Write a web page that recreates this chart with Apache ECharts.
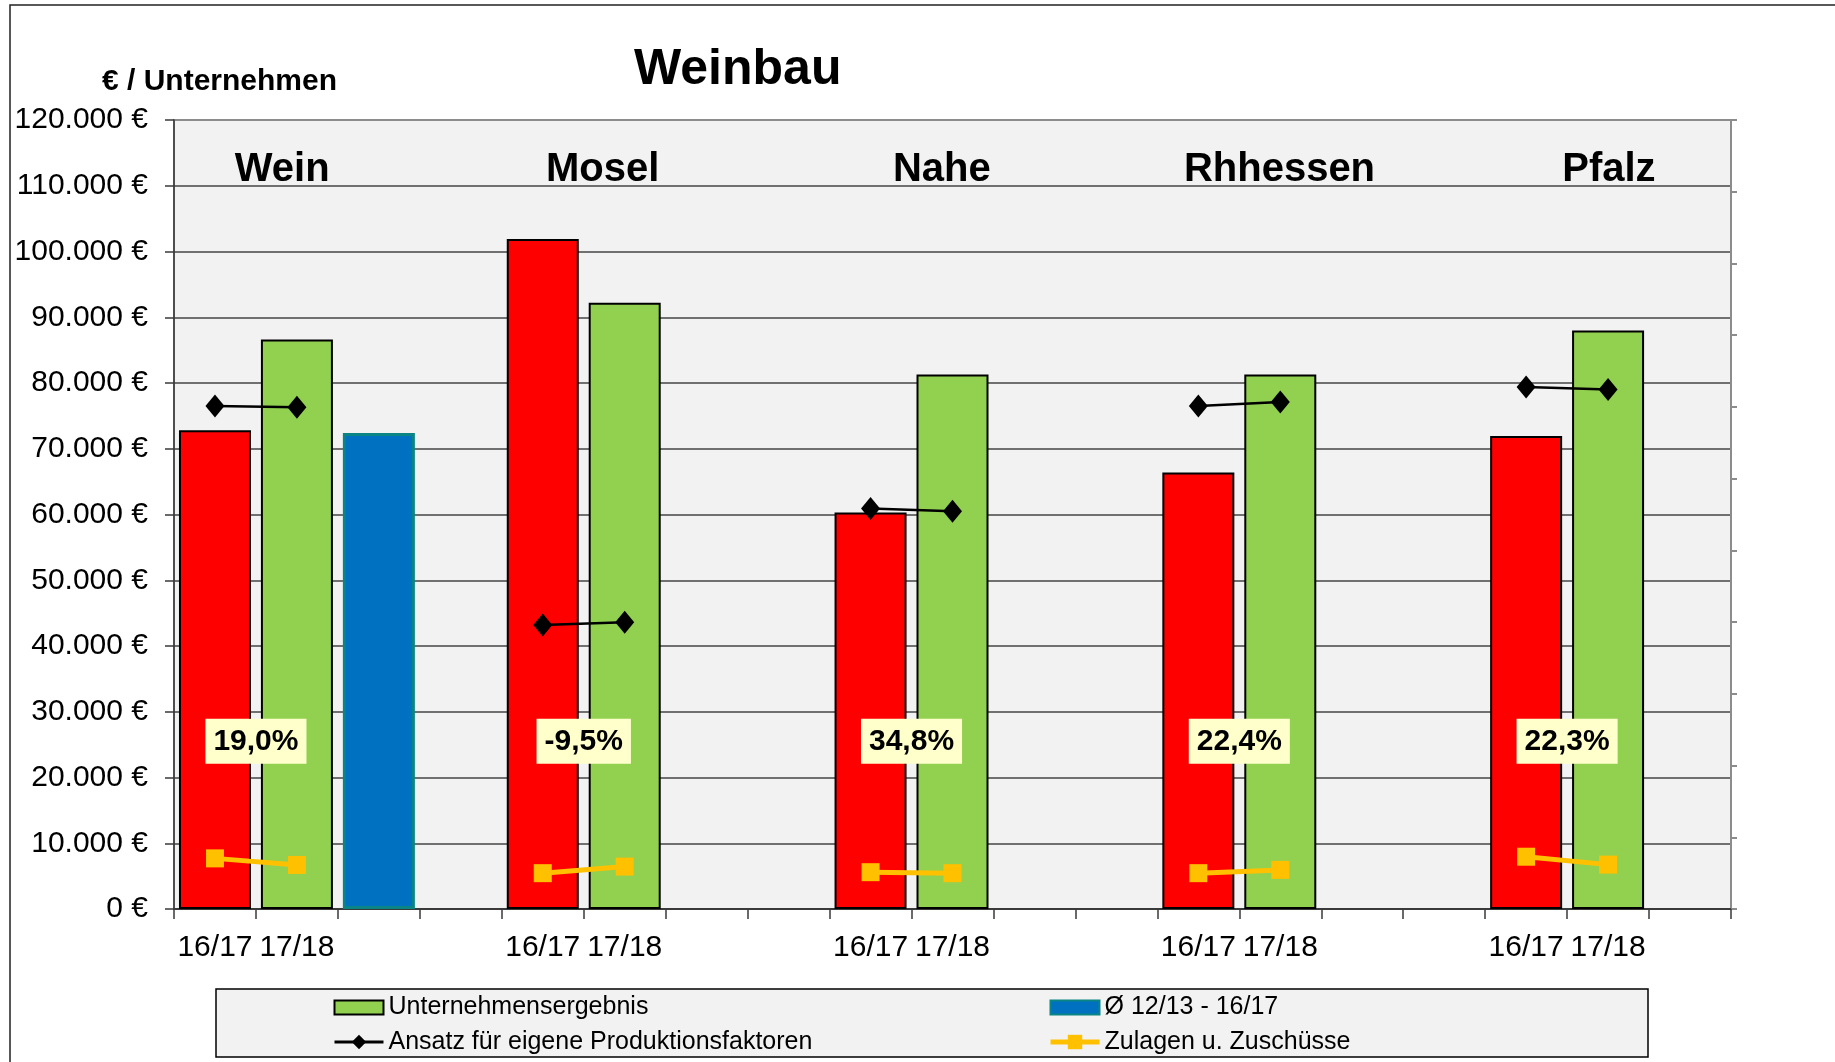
<!DOCTYPE html>
<html>
<head>
<meta charset="utf-8">
<script src="https://cdn.jsdelivr.net/npm/echarts@6/dist/echarts.min.js"></script>
<style>
html,body{margin:0;padding:0;background:#fff;}
#chart{width:1835px;height:1062px;}
</style>
</head>
<body>
<div id="chart"></div>
<script>
// ---- data ----
const groups = ['Wein', 'Mosel', 'Nahe', 'Rhhessen', 'Pfalz'];
const years = ['16/17', '17/18'];
const ergebnis1617 = [72800, 101900, 60300, 66400, 71950];
const ergebnis1718 = [86600, 92200, 81300, 81300, 88000];
const durchschnittWein = [72400];           // Ø 12/13 - 16/17 (Wein only)
const ansatz1617 = [76500, 43200, 60900, 76500, 79400];
const ansatz1718 = [76300, 43600, 60500, 77100, 79000];
const zulagen1617 = [7700, 5450, 5600, 5450, 7950];
const zulagen1718 = [6700, 6450, 5450, 5950, 6750];
const changePct = ['19,0%', '-9,5%', '34,8%', '22,4%', '22,3%'];
const yTicks = [0, 10000, 20000, 30000, 40000, 50000, 60000, 70000, 80000, 90000, 100000, 110000, 120000];

// ---- layout helpers (not data) ----
const groupLabelX = [1.32, 5.23, 9.37, 13.49, 17.51];
const groupLabelY = 112400;
const pctLabelY = 25500;
const FONT = '"Liberation Sans", Arial, sans-serif';

// build categories: 4 slots per group, last group has 3
const categories = [];
const slotOf = []; // [groupIndex, slotInGroup]
groups.forEach((g, gi) => {
  const n = gi < groups.length - 1 ? 4 : 3;
  for (let s = 0; s < n; s++) {
    categories.push(s < 2 ? years[s] : '');
    slotOf.push([gi, s]);
  }
});

const ergebnisData = slotOf.map(([gi, s]) => {
  if (s === 0) return { value: ergebnis1617[gi], itemStyle: { color: '#FF0000' } };
  if (s === 1) return { value: ergebnis1718[gi], itemStyle: { color: '#92D050' } };
  return '-';
});
const avgData = slotOf.map(([gi, s]) => (gi === 0 && s === 2) ? durchschnittWein[0] : '-');
const ansatzData = slotOf.map(([gi, s]) => s === 0 ? ansatz1617[gi] : (s === 1 ? ansatz1718[gi] : '-'));
const zulagenData = slotOf.map(([gi, s]) => s === 0 ? zulagen1617[gi] : (s === 1 ? zulagen1718[gi] : '-'));

// boundary between the two year bars of each group (value-axis coordinate = slot index)
const groupStart = [];
slotOf.forEach(([gi, s], i) => { if (s === 0) groupStart.push(i); });
const pctData = changePct.map((p, gi) => ({ value: [groupStart[gi] + 1, pctLabelY], name: p }));
const groupLabelData = groups.map((g, gi) => ({ value: [groupLabelX[gi], groupLabelY], name: g }));

function fmtEuro(v) {
  return String(v).replace(/\B(?=(\d{3})+(?!\d))/g, '.') + ' €';
}

const chart = echarts.init(document.getElementById('chart'), null, { renderer: 'canvas' });
const barIcon = 'path://M0,0 L49,0 L49,14 L0,14 Z';
const legendCommon = {
  orient: 'vertical', top: 995, padding: 0, height: 70,
  itemWidth: 49, itemHeight: 18, itemGap: 9.5, symbolKeepAspect: true,
  textStyle: { fontFamily: FONT, fontSize: 25, color: '#000', lineHeight: 25 }
};
const option = {
  backgroundColor: '#ffffff',
  animation: false,
  textStyle: { fontFamily: FONT },
  title: [
    { text: 'Weinbau', left: 629, top: 40,
      textStyle: { fontFamily: FONT, fontSize: 50, fontWeight: 'bold', color: '#000' } },
    { text: '€ / Unternehmen', left: 97, top: 62,
      textStyle: { fontFamily: FONT, fontSize: 30, fontWeight: 'bold', color: '#000' } }
  ],
  graphic: [
    { type: 'rect', z: -10, silent: true,
      shape: { x: 10, y: 5, width: 1900, height: 1100 },
      style: { fill: 'none', stroke: '#222', lineWidth: 1.5 } },
    { type: 'rect', z: 0, silent: true,
      shape: { x: 216, y: 989, width: 1432, height: 68 },
      style: { fill: '#F2F2F2', stroke: '#000', lineWidth: 1.5 } }
  ],
  legend: [
    Object.assign({}, legendCommon, { left: 333,
      data: [
        { name: 'Unternehmensergebnis', icon: barIcon },
        { name: 'Ansatz für eigene Produktionsfaktoren', lineStyle: { width: 3 } }
      ] }),
    Object.assign({}, legendCommon, { left: 1048,
      data: [
        { name: 'Ø 12/13 - 16/17', icon: barIcon },
        { name: 'Zulagen u. Zuschüsse', lineStyle: { width: 5 } }
      ] })
  ],
  grid: { left: 174, right: 104, top: 120, bottom: 153, show: true,
    backgroundColor: '#F2F2F2', borderColor: '#8c8c8c', borderWidth: 2 },
  xAxis: [
    { type: 'category', data: categories, boundaryGap: true,
      axisLine: { show: true, lineStyle: { color: '#3a3a3a', width: 2 } },
      axisTick: { show: true, interval: 0, length: 10, lineStyle: { color: '#3a3a3a', width: 1.5 } },
      axisLabel: { interval: 0, margin: 24, fontFamily: FONT, fontSize: 30, color: '#000' },
      splitLine: { show: false } },
    { type: 'value', min: 0, max: categories.length, show: false }
  ],
  yAxis: [
    { type: 'value', min: yTicks[0], max: yTicks[yTicks.length - 1], interval: 10000,
      axisLine: { show: true, lineStyle: { color: '#3a3a3a', width: 1.5 } },
      axisTick: { show: true, length: 9, lineStyle: { color: '#3a3a3a', width: 1.5 } },
      axisLabel: { margin: 26, fontFamily: FONT, fontSize: 30, color: '#000', formatter: fmtEuro },
      splitLine: { show: true, showMinLine: false, showMaxLine: false, lineStyle: { color: '#454545', width: 1.5 } } },
    { type: 'value', position: 'right', min: 0, max: 11, interval: 1,
      axisLine: { show: true, lineStyle: { color: '#8c8c8c', width: 2 } },
      axisTick: { show: true, length: 6, lineStyle: { color: '#8c8c8c', width: 2 } },
      axisLabel: { show: false }, splitLine: { show: false } }
  ],
  series: [
    { name: 'Unternehmensergebnis', type: 'bar', data: ergebnisData, barWidth: 72, barGap: '-100%',
      itemStyle: { color: '#92D050', borderColor: '#000', borderWidth: 2 } },
    { name: 'Ø 12/13 - 16/17', type: 'bar', data: avgData, barWidth: 72, barGap: '-100%',
      itemStyle: { color: '#0070C0', borderColor: '#0a8585', borderWidth: 3 } },
    { name: 'Ansatz für eigene Produktionsfaktoren', type: 'line', data: ansatzData, z: 5,
      symbol: 'diamond', symbolSize: [19, 23], connectNulls: false,
      itemStyle: { color: '#000' }, lineStyle: { color: '#000', width: 2.5 } },
    { name: 'Zulagen u. Zuschüsse', type: 'line', data: zulagenData, z: 5,
      symbol: 'rect', symbolSize: 18, connectNulls: false,
      itemStyle: { color: '#FFC000' }, lineStyle: { color: '#FFC000', width: 5 } },
    { name: 'pct', type: 'scatter', xAxisIndex: 1, yAxisIndex: 0, data: pctData, z: 10,
      symbolSize: 0, silent: true, itemStyle: { opacity: 1 },
      label: { show: true, position: 'inside', formatter: p => p.name,
        fontFamily: FONT, fontSize: 30, fontWeight: 'bold', color: '#000', opacity: 1,
        backgroundColor: '#FFFFCC', padding: [8, 8, 7, 8] } },
    { name: 'groupLabels', type: 'scatter', xAxisIndex: 1, yAxisIndex: 0, data: groupLabelData, z: 10,
      symbolSize: 0, silent: true, itemStyle: { opacity: 1 },
      label: { show: true, position: 'inside', formatter: p => p.name,
        fontFamily: FONT, fontSize: 40, fontWeight: 'bold', color: '#000', opacity: 1 } }
  ]
};
chart.setOption(option);
</script>
</body>
</html>
